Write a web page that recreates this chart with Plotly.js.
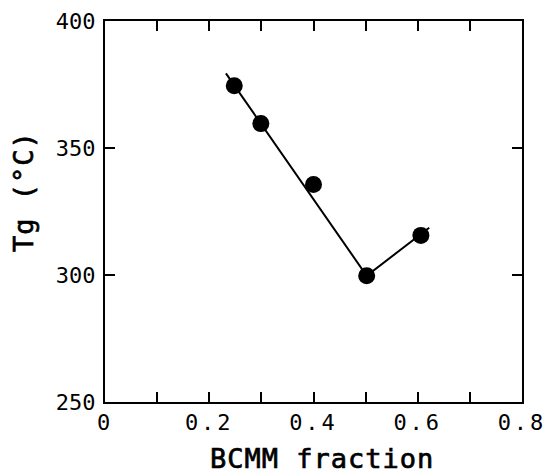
<!DOCTYPE html>
<html>
<head>
<meta charset="utf-8">
<script src="https://cdn.plot.ly/plotly-3.0.1.min.js"></script>
<style>
html,body{margin:0;padding:0;background:#fff;}
#chart{width:547px;height:476px;}
.xtick text{letter-spacing:3px;}
.annotation-text{letter-spacing:1px; stroke:#000; stroke-width:0.7px;}
</style>
</head>
<body>
<div id="chart"></div>
<script>
// Measured data points
const bcmmFraction = [0.248, 0.299, 0.400, 0.502, 0.606];
const tgValues = [374.5, 359.6, 335.6, 299.7, 315.6];
// Fitted guide line (two segments)
const fitX = [0.232, 0.502, 0.622];
const fitY = [379.4, 299.7, 318.6];
// Tick labels
const xTickVals = [0, 0.1, 0.2, 0.3, 0.4, 0.5, 0.6, 0.7, 0.8];
const xTickText = ['0', '', '0.2', '', '0.4', '', '0.6', '', '0.8'];
const yTickVals = [250, 300, 350, 400];
const yTickText = ['250', '300', '350', '400'];
const xTitle = 'BCMM fraction';
const yTitle = 'Tg (°C)';

const tickFont = {family: 'DejaVu Sans Mono', size: 22, color: '#000'};
const titleFont = {family: 'DejaVu Sans Mono', size: 27, color: '#000'};

const traces = [
  {x: fitX, y: fitY, mode: 'lines', line: {color: '#000', width: 2}, hoverinfo: 'skip', showlegend: false},
  {x: bcmmFraction, y: tgValues, mode: 'markers', marker: {color: '#000', size: 17}, showlegend: false}
];

const axisCommon = {
  showgrid: false, zeroline: false, showline: true, linecolor: '#000', linewidth: 2,
  ticks: 'inside', ticklen: 10, tickwidth: 2, tickcolor: '#000', mirror: 'ticks',
  tickfont: tickFont, tickmode: 'array'
};

const layout = {
  width: 547, height: 476,
  margin: {l: 105, r: 25, t: 21, b: 74},
  paper_bgcolor: '#fff', plot_bgcolor: '#fff',
  xaxis: Object.assign({}, axisCommon, {range: [0, 0.8], tickvals: xTickVals, ticktext: xTickText}),
  yaxis: Object.assign({}, axisCommon, {range: [250, 400], tickvals: yTickVals, ticktext: yTickText, ticklabelstandoff: 3}),
  annotations: [
    {text: xTitle, xref: 'paper', yref: 'paper', x: 0.52, y: -0.148, xanchor: 'center', yanchor: 'middle', showarrow: false, font: titleFont},
    {text: yTitle, xref: 'paper', yref: 'paper', x: -0.195, y: 0.553, xanchor: 'center', yanchor: 'middle', textangle: -90, showarrow: false, font: titleFont}
  ]
};

Plotly.newPlot('chart', traces, layout, {displayModeBar: false, staticPlot: true});
</script>
</body>
</html>
